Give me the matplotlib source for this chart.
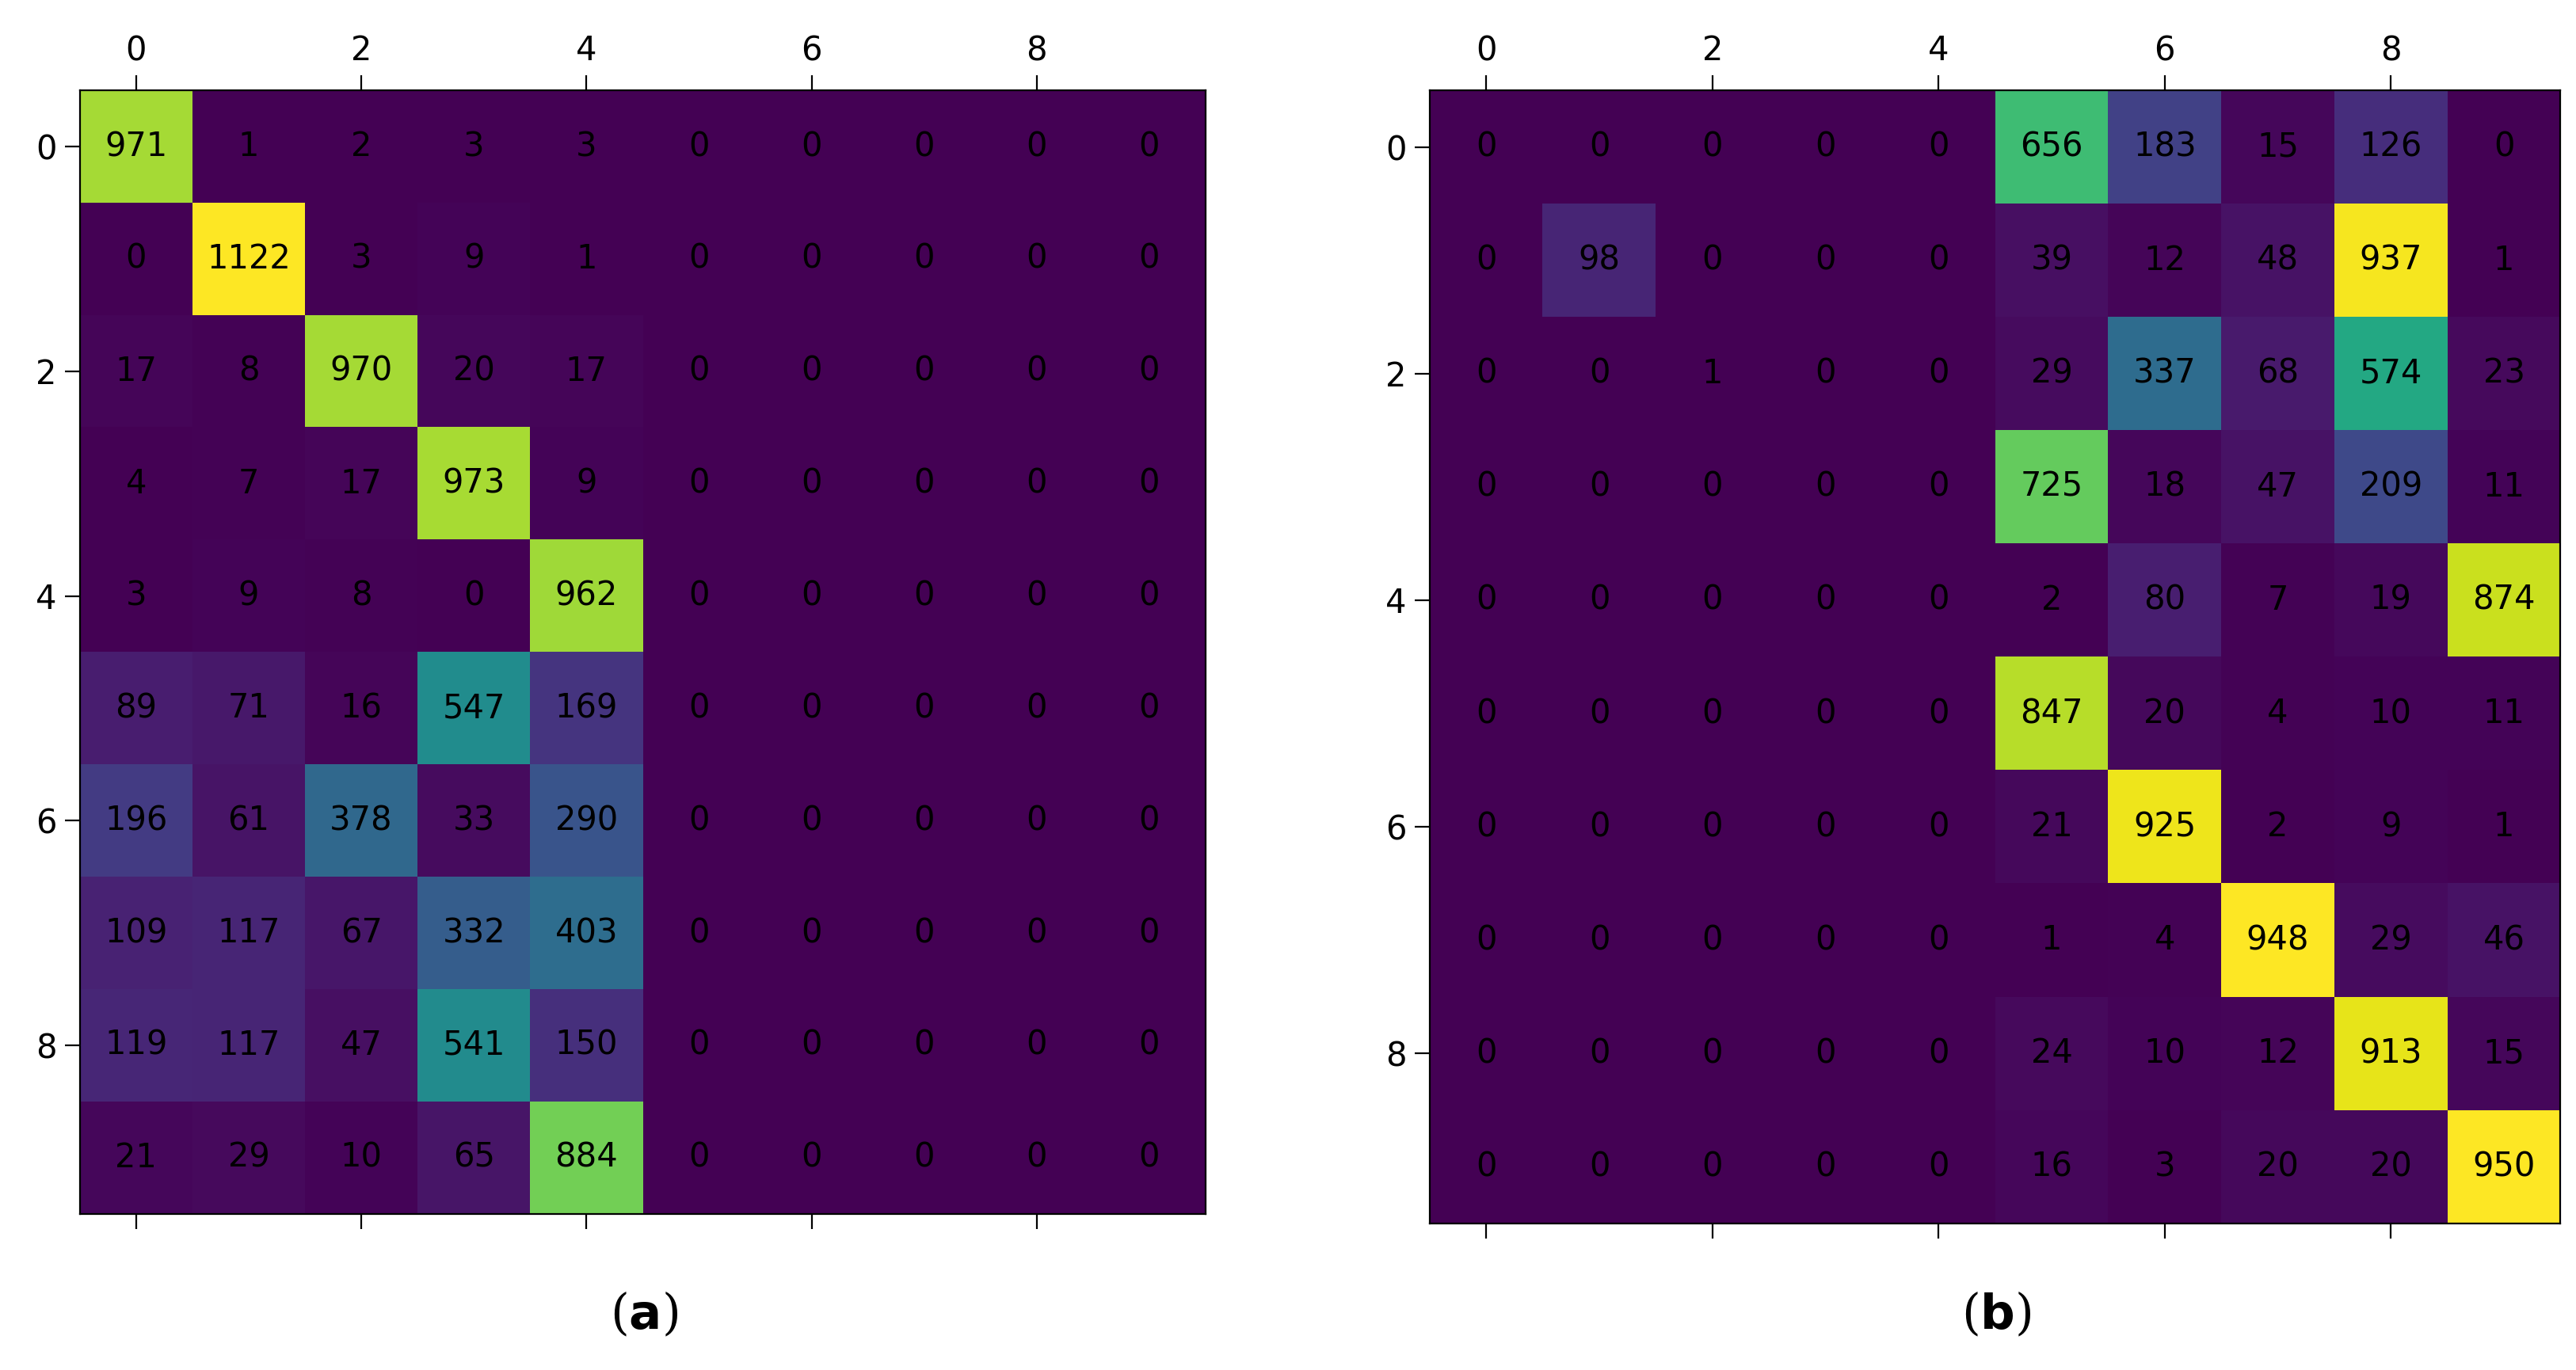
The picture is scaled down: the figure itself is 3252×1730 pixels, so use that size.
import matplotlib.pyplot as plt
import numpy as np

conf_a = np.array([
    [971, 1, 2, 3, 3, 0, 0, 0, 0, 0],
    [0, 1122, 3, 9, 1, 0, 0, 0, 0, 0],
    [17, 8, 970, 20, 17, 0, 0, 0, 0, 0],
    [4, 7, 17, 973, 9, 0, 0, 0, 0, 0],
    [3, 9, 8, 0, 962, 0, 0, 0, 0, 0],
    [89, 71, 16, 547, 169, 0, 0, 0, 0, 0],
    [196, 61, 378, 33, 290, 0, 0, 0, 0, 0],
    [109, 117, 67, 332, 403, 0, 0, 0, 0, 0],
    [119, 117, 47, 541, 150, 0, 0, 0, 0, 0],
    [21, 29, 10, 65, 884, 0, 0, 0, 0, 0],
])

conf_b = np.array([
    [0, 0, 0, 0, 0, 656, 183, 15, 126, 0],
    [0, 98, 0, 0, 0, 39, 12, 48, 937, 1],
    [0, 0, 1, 0, 0, 29, 337, 68, 574, 23],
    [0, 0, 0, 0, 0, 725, 18, 47, 209, 11],
    [0, 0, 0, 0, 0, 2, 80, 7, 19, 874],
    [0, 0, 0, 0, 0, 847, 20, 4, 10, 11],
    [0, 0, 0, 0, 0, 21, 925, 2, 9, 1],
    [0, 0, 0, 0, 0, 1, 4, 948, 29, 46],
    [0, 0, 0, 0, 0, 24, 10, 12, 913, 15],
    [0, 0, 0, 0, 0, 16, 3, 20, 20, 950],
])

fig = plt.figure(figsize=(16.26, 8.65), dpi=200)
ax1 = fig.add_axes([0.031, 0.114, 0.437, 0.82])
ax2 = fig.add_axes([0.555, 0.107, 0.439, 0.827])

for ax, m, lab in [(ax1, conf_a, '(a)'), (ax2, conf_b, '(b)')]:
    ax.matshow(m, cmap='viridis', aspect='auto')
    for i in range(m.shape[0]):
        for j in range(m.shape[1]):
            ax.text(j, i, str(m[i, j]), ha='center', va='center', fontsize=15, color='black')
    ax.set_xticks(range(0, 10, 2))
    ax.set_yticks(range(0, 10, 2))
    ax.tick_params(labelsize=15, length=7)
    ax.text(0.5, -0.09, lab, transform=ax.transAxes, ha='center', va='center',
            fontsize=22, family='DejaVu Serif')

ax1.texts[-1].set_text('')
ax2.texts[-1].set_text('')
fig.text(0.25, 0.04, r'($\mathbf{a}$)', ha='center', va='center', fontsize=22, family='DejaVu Serif')
fig.text(0.775, 0.04, r'($\mathbf{b}$)', ha='center', va='center', fontsize=22, family='DejaVu Serif')

plt.savefig('out.png')
